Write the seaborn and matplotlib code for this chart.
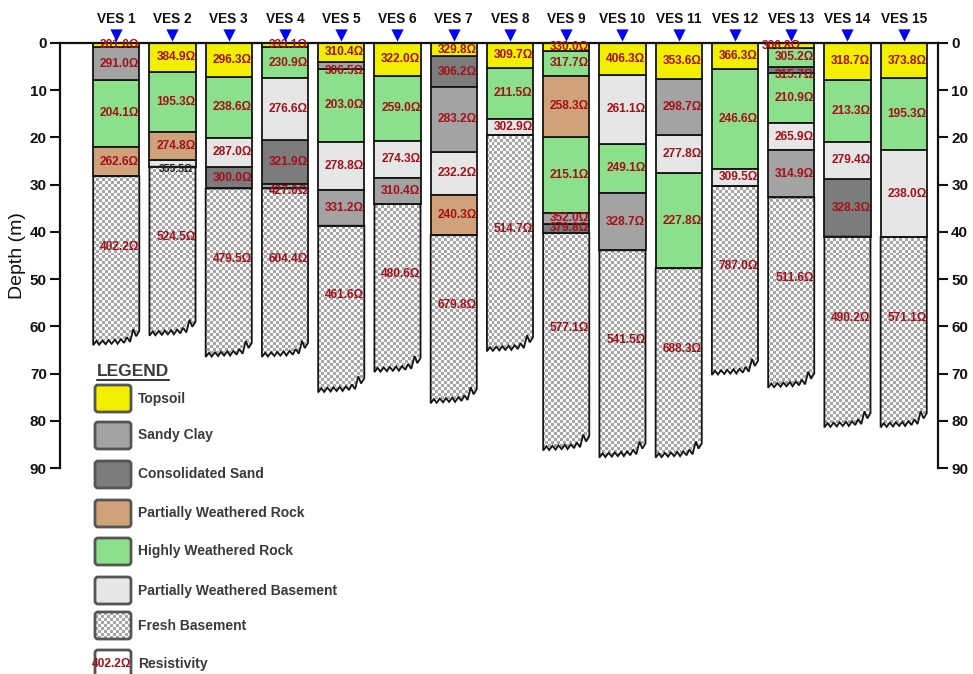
import numpy as np
import pandas as pd
import matplotlib
matplotlib.use("Agg")
import matplotlib.pyplot as plt
import seaborn as sns
from matplotlib.patches import Polygon, FancyBboxPatch
from matplotlib.colors import ListedColormap

sns.set_theme(style="white")
plt.rcParams["font.family"] = ["Liberation Sans", "DejaVu Sans"]
plt.rcParams["font.weight"] = "bold"

# ---------------------------------------------------------------- data
ves_names = [f"VES {i}" for i in range(1, 16)]

# layer codes, from the surface downwards
layer_types = [
    ["TS", "SC", "HWR", "PWR", "FB"],                    # VES 1
    ["TS", "HWR", "PWR", "PWB", "FB"],                   # VES 2
    ["TS", "HWR", "PWB", "CS", "FB"],                    # VES 3
    ["TS", "HWR", "PWB", "CS", "SC", "FB"],              # VES 4
    ["TS", "SC", "HWR", "PWB", "SC", "FB"],              # VES 5
    ["TS", "HWR", "PWB", "SC", "FB"],                    # VES 6
    ["TS", "CS", "SC", "PWB", "PWR", "FB"],              # VES 7
    ["TS", "HWR", "PWB", "FB"],                          # VES 8
    ["TS", "HWR", "PWR", "HWR", "SC", "CS", "FB"],       # VES 9
    ["TS", "PWB", "HWR", "SC", "FB"],                    # VES 10
    ["TS", "SC", "PWB", "HWR", "FB"],                    # VES 11
    ["TS", "HWR", "PWB", "FB"],                          # VES 12
    ["TS", "HWR", "CS", "HWR", "PWB", "SC", "FB"],       # VES 13
    ["TS", "HWR", "PWB", "CS", "FB"],                    # VES 14
    ["TS", "HWR", "PWB", "FB"],                          # VES 15
]

# depth (m) to the base of each layer; last value = depth reached
layer_bases = [
    [0.9, 7.8, 22.0, 28.2, 64.0],
    [6.1, 18.8, 24.8, 26.2, 62.0],
    [7.1, 20.1, 26.2, 30.8, 66.5],
    [0.9, 7.5, 20.6, 29.9, 30.8, 66.5],
    [4.0, 5.4, 20.9, 31.1, 38.7, 74.0],
    [6.9, 20.7, 28.5, 34.1, 69.7],
    [2.8, 9.3, 23.0, 32.2, 40.7, 76.3],
    [5.2, 16.0, 19.5, 65.3],
    [1.6, 6.9, 19.8, 35.9, 38.3, 40.2, 86.3],
    [6.8, 21.3, 31.8, 43.9, 87.8],
    [7.7, 19.5, 27.5, 47.7, 87.8],
    [5.6, 26.6, 30.3, 70.3],
    [1.1, 5.0, 6.3, 17.0, 22.7, 32.7, 73.0],
    [7.8, 20.9, 28.7, 41.0, 81.4],
    [7.5, 22.7, 41.1, 81.4],
]

# layer resistivity (ohm-m)
layer_rho = [
    [201.0, 291.0, 204.1, 262.6, 402.2],
    [384.9, 195.3, 274.8, 355.5, 524.5],
    [296.3, 238.6, 287.0, 300.0, 479.5],
    [333.1, 230.9, 276.6, 321.9, 427.0, 604.4],
    [310.4, 306.5, 203.0, 278.8, 331.2, 461.6],
    [322.0, 259.0, 274.3, 310.4, 480.6],
    [329.8, 306.2, 283.2, 232.2, 240.3, 679.8],
    [309.7, 211.5, 302.9, 514.7],
    [330.0, 317.7, 258.3, 215.1, 352.0, 379.8, 577.1],
    [406.3, 261.1, 249.1, 328.7, 541.5],
    [353.6, 298.7, 277.8, 227.8, 688.3],
    [366.3, 246.6, 309.5, 787.0],
    [306.8, 305.2, 315.7, 210.9, 265.9, 314.9, 511.6],
    [318.7, 213.3, 279.4, 328.3, 490.2],
    [373.8, 195.3, 238.0, 571.1],
]

legend_codes = ["TS", "SC", "CS", "PWR", "HWR", "PWB", "FB"]
legend_names = ["Topsoil", "Sandy Clay", "Consolidated Sand",
                "Partially Weathered Rock", "Highly Weathered Rock",
                "Partially Weathered Basement", "Fresh Basement"]
depth_ticks = list(range(0, 91, 10))

layer_colors = {
    "TS": "#f2ee00", "SC": "#a3a3a3", "CS": "#7c7c7c", "PWR": "#cfa27a",
    "HWR": "#8ce08c", "PWB": "#e6e6e6", "FB": "#ffffff",
}
RHO_RED = "#a3101a"

# ------------------------------------------------------- tidy layer table
rows = []
for k, (codes, bases, rhos) in enumerate(zip(layer_types, layer_bases, layer_rho)):
    top, seen = 0.0, {}
    for j, (c, b, r) in enumerate(zip(codes, bases, rhos)):
        occ = seen.get(c, 0)
        seen[c] = occ + 1
        rows.append(dict(ves=ves_names[k], pos=k, idx=j, code=c, top=top,
                         base=b, thick=b - top, rho=r, occ=occ))
        top = b
layers = pd.DataFrame(rows)

# ------------------------------------------------------------- figure
W, H = 973, 674
fig = plt.figure(figsize=(W / 100, H / 100), dpi=100)
ax = fig.add_axes([60 / W, 1 - 468 / H, (938 - 60) / W, (468 - 43) / H])
XLIM = (-1.0, 14.61)
BAR_W = 0.82

# stacked strata, one barplot per layer type (and repeat occurrence)
strata = layers[layers.code != "FB"]
for (code, occ), sub in strata.groupby(["code", "occ"]):
    sub = sub.sort_values("pos")
    sns.barplot(data=sub, x="ves", y="thick", order=ves_names,
                bottom=sub["top"].to_numpy(), color=layer_colors[code],
                saturation=1, errorbar=None, width=BAR_W,
                edgecolor="#151515", linewidth=1.3, zorder=2, ax=ax)

# fresh basement: open-ended column with a broken (zig-zag) base
zig_fr = np.array([0, .07, .13, .2, .27, .33, .4, .47, .53, .6, .67, .73, .8, .87, .93, 1.0])
zig_off = np.array([0, -0.9, -0.1, -1.0, -0.2, -1.1, -0.3, -1.2, -0.3, -1.3,
                    -0.5, -1.7, -0.7, -3.4, -1.9, -3.0])

ny, nx = 142, 293
checker = np.add.outer(np.arange(ny), np.arange(nx)) % 2
checker_cmap = ListedColormap(["#fafafa", "#a6a6a6"])

fresh = layers[layers.code == "FB"]
for _, r in fresh.iterrows():
    x0 = r.pos - BAR_W / 2
    xs = x0 + zig_fr * BAR_W
    ys = r.base + zig_off
    verts = [(x0, r.top), (x0 + BAR_W, r.top)] + list(zip(xs[::-1], ys[::-1]))
    poly = Polygon(verts, closed=True, facecolor="none", edgecolor="#151515",
                   linewidth=1.3, zorder=3)
    ax.add_patch(poly)
    im = ax.imshow(checker, cmap=checker_cmap, extent=(XLIM[0], XLIM[1], 90, 0),
                   origin="upper", interpolation="nearest", aspect="auto", zorder=1.9)
    im.set_clip_path(poly)

# resistivity labels
dark_labels = {(1, 3)}
label_shift = {(12, 0): -0.24}
for _, r in layers.iterrows():
    if r.code == "FB":
        y = (r.top + r.base) / 2 - 3
    elif r.top > 0 and r.thick < 1.5:
        y = r.base + 0.5
    else:
        y = (r.top + r.base) / 2
    key = (r.pos, r.idx)
    dark = key in dark_labels
    ax.text(r.pos + 0.06 + label_shift.get(key, 0), y, f"{r.rho:.1f}\u03a9",
            ha="center", va="center", fontsize=7.5 if dark else 8.6,
            color="#222222" if dark else RHO_RED, zorder=6)

# station markers
ax.scatter(range(len(ves_names)), [-1.8] * len(ves_names), marker="v", s=78,
           color="#0000ff", clip_on=False, zorder=7, linewidths=0)

# axes styling
ax.set_xlim(*XLIM)
ax.set_ylim(90, 0)
ax.xaxis.tick_top()
ax.set_xticks(range(len(ves_names)))
ax.set_xticklabels(ves_names)
ax.tick_params(axis="x", length=0, pad=12.5, labelsize=9.8, labelcolor="#111111")
ax.set_yticks(depth_ticks)
ax.tick_params(axis="y", left=True, right=True, labelleft=True, labelright=True,
               direction="out", length=7.5, width=1.5, labelsize=11, pad=2,
               color="#111111", labelcolor="#111111")
ax.set_xlabel("")
ax.set_ylabel("Depth (m)", fontsize=14, labelpad=3, color="#111111")
for side in ("left", "right", "top"):
    ax.spines[side].set_visible(True)
    ax.spines[side].set_linewidth(1.6)
    ax.spines[side].set_color("#111111")
ax.spines["bottom"].set_visible(False)
ax.grid(False)
ax.patch.set_alpha(0)

# ------------------------------------------------------------- legend
lax = fig.add_axes([0, 0, 1, 1], zorder=5)
lax.set_xlim(0, W)
lax.set_ylim(H, 0)
lax.axis("off")
lax.patch.set_alpha(0)

ink = "#3a3a3a"
lax.text(97, 372, "LEGEND", fontsize=12.5, color=ink, ha="left", va="center")
lax.plot([97, 169], [380, 380], color=ink, lw=1.5)

box_tops = [385, 422, 461, 500, 538, 577, 612, 650]
bx, bw, bh = 95, 36, 27
for top, code, name in zip(box_tops, legend_codes, legend_names):
    box = FancyBboxPatch((bx, top), bw, bh, boxstyle="round,pad=0,rounding_size=3",
                         facecolor=layer_colors[code], edgecolor="#555555", lw=2)
    lax.add_patch(box)
    if code == "FB":
        im = lax.imshow(np.add.outer(np.arange(9), np.arange(12)) % 2,
                        cmap=checker_cmap, extent=(bx, bx + bw, top + bh, top),
                        interpolation="nearest", aspect="auto", zorder=1.5)
        im.set_clip_path(box)
        box.set_zorder(2)
        box.set_facecolor("none")
    lax.text(bx + 43, top + bh / 2, name, fontsize=10, color=ink,
             ha="left", va="center")

rtop = box_tops[-1]
lax.add_patch(FancyBboxPatch((bx, rtop), bw, bh, boxstyle="round,pad=0,rounding_size=3",
                             facecolor="white", edgecolor="#555555", lw=2))
lax.text(bx + bw / 2 - 1, rtop + 14, f"{layer_rho[0][-1]:.1f}\u03a9", fontsize=8.6,
         color=RHO_RED, ha="center", va="center")
lax.text(bx + 43, rtop + 14, "Resistivity", fontsize=10, color=ink,
         ha="left", va="center")
lax.set_xlim(0, W)
lax.set_ylim(H, 0)

fig.savefig("out.png", dpi=100)
